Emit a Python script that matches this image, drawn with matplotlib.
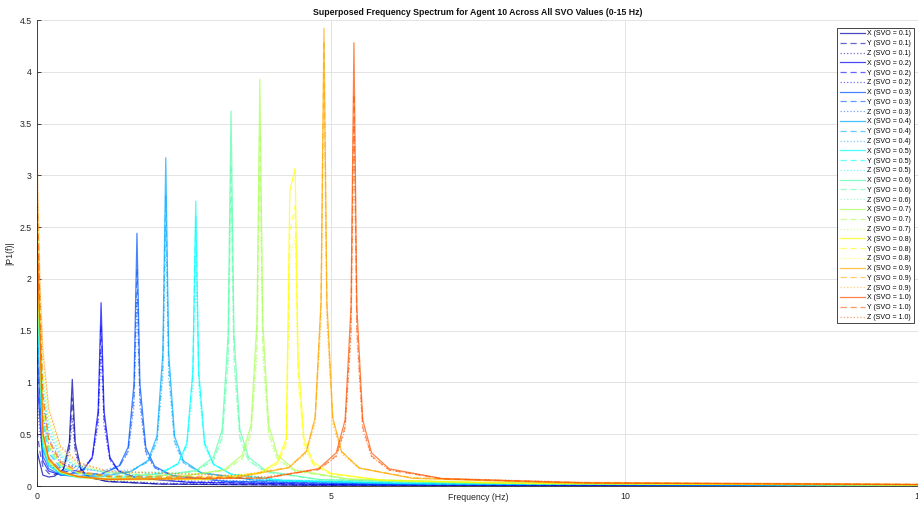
import matplotlib
matplotlib.use("Agg")
import matplotlib.pyplot as plt

plt.rcParams['font.family'] = ['Liberation Sans', 'DejaVu Sans']

svo_values = [0.1, 0.2, 0.3, 0.4, 0.5, 0.6, 0.7, 0.8, 0.9, 1.0]
axis_names = ["X", "Y", "Z"]
x_ticks = [0, 5, 10, 15]
y_ticks = [0, 0.5, 1, 1.5, 2, 2.5, 3, 3.5, 4, 4.5]

# knot frequencies (Hz) and |P1(f)| values, per SVO
f_01 = [0, 0.05, 0.1, 0.2, 0.3, 0.45, 0.55, 0.6, 0.65, 0.75, 0.9, 1.2, 2.1, 4.6, 15]
x_01 = [0.34, 0.22, 0.105, 0.087, 0.095, 0.164, 0.423, 1.03, 0.421, 0.159, 0.082, 0.043, 0.018, 0.007, 0.002]
y_01 = [0.53, 0.33, 0.19, 0.12, 0.11, 0.16, 0.37, 0.85, 0.36, 0.145, 0.079, 0.044, 0.02, 0.008, 0.002]
z_01 = [0.82, 0.51, 0.35, 0.22, 0.17, 0.18, 0.33, 0.65, 0.32, 0.14, 0.087, 0.054, 0.027, 0.012, 0.003]

f_02 = [0, 0.05, 0.1, 0.2, 0.4, 0.49, 0.79, 0.94, 1.04, 1.09, 1.14, 1.24, 1.39, 1.69, 2.59, 5.09, 15]
x_02 = [1.04, 0.64, 0.24, 0.144, 0.107, 0.106, 0.154, 0.281, 0.727, 1.77, 0.726, 0.276, 0.143, 0.077, 0.035, 0.014, 0.004]
y_02 = [1.33, 0.81, 0.42, 0.234, 0.148, 0.137, 0.162, 0.269, 0.658, 1.55, 0.654, 0.259, 0.141, 0.08, 0.038, 0.016, 0.005]
z_02 = [1.63, 0.99, 0.67, 0.39, 0.22, 0.195, 0.186, 0.267, 0.589, 1.3, 0.583, 0.248, 0.147, 0.091, 0.048, 0.021, 0.007]

f_03 = [0, 0.05, 0.1, 0.2, 0.4, 0.7, 1.1, 1.4, 1.55, 1.65, 1.7, 1.75, 1.85, 2.0, 2.3, 3.2, 5.7, 15]
x_03 = [1.33, 0.81, 0.29, 0.167, 0.106, 0.091, 0.114, 0.197, 0.376, 0.992, 2.44, 0.991, 0.373, 0.191, 0.101, 0.045, 0.018, 0.006]
y_03 = [1.63, 0.99, 0.51, 0.272, 0.156, 0.115, 0.122, 0.187, 0.34, 0.869, 2.1, 0.867, 0.335, 0.177, 0.099, 0.047, 0.02, 0.007]
z_03 = [1.92, 1.16, 0.79, 0.46, 0.246, 0.163, 0.145, 0.192, 0.32, 0.772, 1.8, 0.769, 0.311, 0.174, 0.104, 0.054, 0.025, 0.009]

f_04 = [0, 0.05, 0.1, 0.2, 0.4, 0.69, 1.1, 1.59, 1.89, 2.04, 2.14, 2.19, 2.24, 2.34, 2.49, 2.79, 3.69, 6.19, 15]
x_04 = [1.63, 0.99, 0.35, 0.195, 0.119, 0.094, 0.092, 0.137, 0.248, 0.482, 1.283, 3.17, 1.282, 0.48, 0.244, 0.129, 0.057, 0.022, 0.007]
y_04 = [1.93, 1.17, 0.6, 0.316, 0.177, 0.125, 0.108, 0.14, 0.234, 0.44, 1.147, 2.8, 1.145, 0.436, 0.227, 0.124, 0.057, 0.024, 0.008]
z_04 = [2.23, 1.35, 0.91, 0.52, 0.28, 0.18, 0.14, 0.155, 0.235, 0.417, 1.046, 2.5, 1.044, 0.41, 0.223, 0.128, 0.065, 0.03, 0.011]

f_05 = [0, 0.05, 0.1, 0.2, 0.4, 0.7, 1.2, 2.1, 2.4, 2.55, 2.65, 2.7, 2.75, 2.85, 3.0, 3.3, 4.2, 6.7, 15]
x_05 = [1.82, 1.1, 0.38, 0.204, 0.116, 0.081, 0.071, 0.119, 0.215, 0.418, 1.114, 2.75, 1.113, 0.417, 0.212, 0.113, 0.05, 0.02, 0.007]
y_05 = [2.12, 1.28, 0.65, 0.338, 0.183, 0.119, 0.092, 0.126, 0.216, 0.407, 1.064, 2.6, 1.063, 0.404, 0.211, 0.115, 0.054, 0.023, 0.009]
z_05 = [2.42, 1.46, 0.98, 0.56, 0.292, 0.179, 0.125, 0.136, 0.213, 0.38, 0.961, 2.3, 0.959, 0.376, 0.204, 0.118, 0.061, 0.029, 0.011]

f_06 = [0, 0.05, 0.1, 0.2, 0.4, 0.7, 1.2, 1.8, 2.7, 3.0, 3.15, 3.25, 3.3, 3.35, 3.45, 3.6, 3.9, 4.8, 7.3, 15]
x_06 = [2.02, 1.23, 0.43, 0.226, 0.128, 0.088, 0.071, 0.076, 0.149, 0.277, 0.545, 1.46, 3.62, 1.46, 0.544, 0.275, 0.144, 0.062, 0.026, 0.01]
y_06 = [2.32, 1.4, 0.71, 0.367, 0.197, 0.125, 0.091, 0.085, 0.141, 0.249, 0.478, 1.261, 3.1, 1.261, 0.476, 0.245, 0.133, 0.061, 0.027, 0.011]
z_06 = [2.62, 1.58, 1.06, 0.605, 0.314, 0.191, 0.127, 0.107, 0.147, 0.243, 0.449, 1.156, 2.8, 1.155, 0.446, 0.237, 0.134, 0.066, 0.031, 0.013]

f_07 = [0, 0.05, 0.1, 0.2, 0.4, 0.7, 1.2, 2.29, 3.19, 3.49, 3.64, 3.74, 3.79, 3.84, 3.94, 4.09, 4.39, 5.29, 7.79, 15]
x_07 = [2.12, 1.28, 0.44, 0.234, 0.131, 0.088, 0.068, 0.077, 0.158, 0.299, 0.59, 1.583, 3.93, 1.583, 0.589, 0.297, 0.155, 0.067, 0.027, 0.011]
y_07 = [2.42, 1.46, 0.74, 0.381, 0.202, 0.127, 0.089, 0.082, 0.149, 0.269, 0.52, 1.379, 3.4, 1.379, 0.518, 0.266, 0.142, 0.065, 0.028, 0.012]
z_07 = [2.82, 1.7, 1.14, 0.648, 0.335, 0.201, 0.131, 0.1, 0.15, 0.255, 0.476, 1.234, 3.0, 1.233, 0.473, 0.25, 0.14, 0.069, 0.033, 0.014]

f_08 = [0, 0.05, 0.1, 0.2, 0.4, 0.7, 1.2, 2.89, 3.79, 4.09, 4.24, 4.30, 4.39, 4.44, 4.54, 4.69, 4.99, 5.89, 8.39, 15]
x_08 = [2.32, 1.4, 0.48, 0.246, 0.132, 0.084, 0.059, 0.062, 0.126, 0.235, 0.462, 2.85, 3.07, 1.238, 0.461, 0.234, 0.123, 0.054, 0.023, 0.009]
y_08 = [2.61, 1.57, 0.79, 0.404, 0.21, 0.127, 0.084, 0.068, 0.121, 0.216, 0.415, 2.45, 2.7, 1.098, 0.414, 0.214, 0.116, 0.054, 0.024, 0.01]
z_08 = [3.01, 1.81, 1.21, 0.688, 0.351, 0.207, 0.13, 0.083, 0.125, 0.208, 0.385, 2.2, 2.4, 0.99, 0.383, 0.204, 0.116, 0.059, 0.029, 0.014]

f_09 = [0, 0.05, 0.1, 0.2, 0.4, 0.7, 1.2, 3.38, 4.28, 4.58, 4.73, 4.83, 4.88, 4.93, 5.03, 5.18, 5.48, 6.38, 8.88, 15]
x_09 = [2.52, 1.52, 0.52, 0.27, 0.146, 0.094, 0.069, 0.081, 0.176, 0.334, 0.661, 1.778, 4.42, 1.778, 0.66, 0.333, 0.173, 0.074, 0.03, 0.013]
y_09 = [2.92, 1.76, 0.89, 0.455, 0.239, 0.147, 0.099, 0.091, 0.179, 0.333, 0.65, 1.738, 4.3, 1.738, 0.649, 0.331, 0.175, 0.079, 0.034, 0.015]
z_09 = [3.32, 2.0, 1.34, 0.763, 0.392, 0.233, 0.147, 0.102, 0.177, 0.314, 0.598, 1.571, 3.85, 1.57, 0.596, 0.31, 0.169, 0.081, 0.038, 0.018]

f_10 = [0, 0.05, 0.1, 0.2, 0.4, 0.7, 1.2, 3.89, 4.79, 5.09, 5.24, 5.34, 5.39, 5.44, 5.54, 5.69, 5.99, 6.89, 9.39, 15]
x_10 = [2.42, 1.46, 0.5, 0.258, 0.139, 0.089, 0.063, 0.076, 0.168, 0.321, 0.638, 1.721, 4.28, 1.721, 0.638, 0.32, 0.166, 0.071, 0.029, 0.013]
y_10 = [2.82, 1.7, 0.86, 0.436, 0.227, 0.138, 0.09, 0.079, 0.158, 0.293, 0.572, 1.528, 3.78, 1.527, 0.571, 0.291, 0.154, 0.069, 0.03, 0.015]
z_10 = [3.21, 1.94, 1.3, 0.735, 0.376, 0.222, 0.139, 0.09, 0.16, 0.284, 0.542, 1.427, 3.5, 1.426, 0.541, 0.281, 0.154, 0.074, 0.034, 0.018]

freqs = [f_01, f_02, f_03, f_04, f_05, f_06, f_07, f_08, f_09, f_10]
xs = [x_01, x_02, x_03, x_04, x_05, x_06, x_07, x_08, x_09, x_10]
ys = [y_01, y_02, y_03, y_04, y_05, y_06, y_07, y_08, y_09, y_10]
zs = [z_01, z_02, z_03, z_04, z_05, z_06, z_07, z_08, z_09, z_10]

colors = ["#0000aa", "#0000ff", "#0055ff", "#00aaff", "#00ffff",
          "#55ffaa", "#aaff55", "#ffff00", "#ffaa00", "#ff5500"]

W, H = 918, 511
ax_l, ax_b, ax_r, ax_t = 37, 486, 919, 20
fig = plt.figure(figsize=(W / 100, H / 100), dpi=100)
ax = fig.add_axes([ax_l / W, (H - ax_b) / H, (ax_r - ax_l) / W, (ax_b - ax_t) / H])

styles = [("-", 0.72), ((0, (5, 3)), 0.6), (":", 0.55)]
for i, svo in enumerate(svo_values):
    for name, vals, (ls, a) in zip(axis_names, [xs[i], ys[i], zs[i]], styles):
        ax.plot(freqs[i], vals, linestyle=ls, color=colors[i], alpha=a, lw=0.9,
                label=f"{name} (SVO = {svo:.1f})")

ax.set_xlim(0, 15)
ax.set_ylim(0, 4.5)
ax.set_xticks(x_ticks)
ax.set_xticklabels([str(t) for t in x_ticks])
ax.set_yticks(y_ticks)
ax.set_yticklabels([f"{t:g}" for t in y_ticks])
ax.grid(True, color="#e3e3e3", lw=0.7)
ax.set_axisbelow(True)
for s in ["top", "right"]:
    ax.spines[s].set_visible(False)
for s in ["left", "bottom"]:
    ax.spines[s].set_color("#262626")
    ax.spines[s].set_linewidth(0.6)
ax.tick_params(direction="in", length=3, width=0.6, labelsize=6.3, colors="#262626", pad=4)

ax.set_title("Superposed Frequency Spectrum for Agent 10 Across All SVO Values (0-15 Hz)",
             fontsize=6.3, fontweight="bold", color="#111111", pad=3.5)
ax.set_xlabel("Frequency (Hz)", fontsize=6.3, color="#262626", va="center")
ax.xaxis.set_label_coords(0.5, -(497 - ax_b) / (ax_b - ax_t))
ax.set_ylabel("|P1(f)|", fontsize=6.3, color="#262626", va="center")
ax.yaxis.set_label_coords(-(ax_l - 10) / (ax_r - ax_l), 0.5)

leg = ax.legend(loc="upper right",
                bbox_to_anchor=((914 - ax_l) / (ax_r - ax_l), 1 - 8 / (ax_b - ax_t)),
                fontsize=5.0, handlelength=3.6, labelspacing=0.40, borderpad=0.35,
                handletextpad=0.4, borderaxespad=0, fancybox=False, framealpha=1,
                edgecolor="#262626")
leg.get_frame().set_linewidth(0.6)

fig.savefig("out.png", dpi=100)
